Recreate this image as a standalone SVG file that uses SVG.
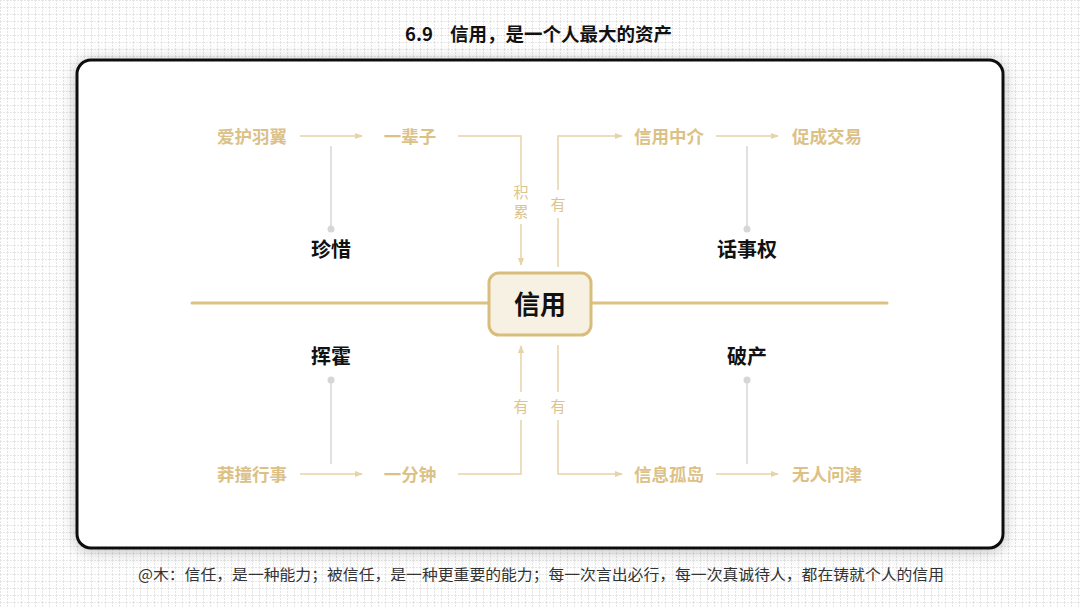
<svg xmlns="http://www.w3.org/2000/svg" width="1080" height="608" viewBox="0 0 1080 608">
<defs>
<pattern id="grid" width="7" height="7" patternUnits="userSpaceOnUse">
<path d="M0 0.5 H7 M0.5 0 V7" stroke="#e6e6e6" stroke-width="1" stroke-dasharray="2 1" fill="none"/>
</pattern>
<filter id="shadow" x="-10%" y="-10%" width="120%" height="120%">
<feDropShadow dx="0" dy="2" stdDeviation="8" flood-color="#000" flood-opacity="0.25"/>
</filter>
<marker id="arr" viewBox="0 0 10 10" refX="9" refY="5" markerWidth="8" markerHeight="8" markerUnits="userSpaceOnUse" orient="auto">
<path d="M0 1 L10 5 L0 9 Z" fill="#e6d3a6"/>
</marker>
</defs>
<style>
.gold{font-family:"Noto Sans CJK SC","Noto Sans",sans-serif;font-weight:bold;font-size:17.5px;fill:#dcc187;text-anchor:middle}
.blk{font-family:"Noto Sans CJK SC","Noto Sans",sans-serif;font-weight:bold;font-size:20px;fill:#111;text-anchor:middle}
.sm{font-family:"Noto Sans CJK SC","Noto Sans",sans-serif;font-size:15px;fill:#dcc48e;text-anchor:middle}
.con{fill:none;stroke:#e6d3a6;stroke-width:1.5}
.gray{fill:none;stroke:#d6d6d6;stroke-width:1.5}
.dot{fill:#d6d6d6}
</style>
<rect width="1080" height="608" fill="#fff"/>
<rect width="1080" height="608" fill="url(#grid)"/>
<text x="405" y="41" font-family="Noto Sans CJK SC,Noto Sans,sans-serif" font-weight="bold" font-size="18.5" fill="#111">6.9</text>
<text x="450" y="41" font-family="Noto Sans CJK SC,Noto Sans,sans-serif" font-weight="bold" font-size="18.5" fill="#111">信用，是一个人最大的资产</text>
<rect x="77" y="60" width="926" height="488" rx="14" fill="#fff" stroke="#111" stroke-width="3" filter="url(#shadow)"/>
<line x1="192" y1="303" x2="887" y2="303" stroke="#dcc17f" stroke-width="3" stroke-linecap="round"/>
<g id="connectors">
<line class="con" x1="300" y1="136" x2="362" y2="136" marker-end="url(#arr)"/>
<path class="con" d="M458 136 H521 V186"/>
<path class="con" d="M521 224 V265" marker-end="url(#arr)"/>
<path class="con" d="M558 190 V136 H622" marker-end="url(#arr)"/>
<path class="con" d="M558 218 V267"/>
<line class="con" x1="716" y1="136" x2="778" y2="136" marker-end="url(#arr)"/>
<line class="con" x1="300" y1="474" x2="362" y2="474" marker-end="url(#arr)"/>
<path class="con" d="M458 474 H521 V420"/>
<path class="con" d="M521 392 V346" marker-end="url(#arr)"/>
<path class="con" d="M558 345 V392"/>
<path class="con" d="M558 420 V474 H622" marker-end="url(#arr)"/>
<line class="con" x1="716" y1="474" x2="778" y2="474" marker-end="url(#arr)"/>
<line class="gray" x1="331" y1="146" x2="331" y2="229"/>
<circle class="dot" cx="331" cy="229" r="3.5"/>
<line class="gray" x1="747" y1="146" x2="747" y2="229"/>
<circle class="dot" cx="747" cy="229" r="3.5"/>
<line class="gray" x1="331" y1="380" x2="331" y2="464"/>
<circle class="dot" cx="331" cy="380" r="3.5"/>
<line class="gray" x1="747" y1="380" x2="747" y2="464"/>
<circle class="dot" cx="747" cy="380" r="3.5"/>
<text class="sm" x="521" y="198">积</text>
<text class="sm" x="521" y="217">累</text>
<text class="sm" x="558" y="210">有</text>
<text class="sm" x="521" y="412">有</text>
<text class="sm" x="558" y="412">有</text>
</g>
<g id="center">
<rect x="489" y="273" width="102" height="62" rx="10" fill="#f7f1e4" stroke="#d9bd7a" stroke-width="3"/>
<text x="540" y="314" font-family="Noto Sans CJK SC,Noto Sans,sans-serif" font-weight="bold" font-size="26" fill="#111" text-anchor="middle">信用</text>
</g>
<g id="n-aihu"><text class="gold" x="252" y="143">爱护羽翼</text></g>
<g id="n-yibeizi"><text class="gold" x="410" y="143">一辈子</text></g>
<g id="n-xinyongzhongjie"><text class="gold" x="669" y="143">信用中介</text></g>
<g id="n-cucheng"><text class="gold" x="827" y="143">促成交易</text></g>
<g id="n-zhenxi"><text class="blk" x="331" y="257">珍惜</text></g>
<g id="n-huashiquan"><text class="blk" x="747" y="257">话事权</text></g>
<g id="n-huihuo"><text class="blk" x="331" y="364">挥霍</text></g>
<g id="n-pochan"><text class="blk" x="747" y="364">破产</text></g>
<g id="n-mangzhuang"><text class="gold" x="252" y="481">莽撞行事</text></g>
<g id="n-yifenzhong"><text class="gold" x="410" y="481">一分钟</text></g>
<g id="n-xinxi"><text class="gold" x="669" y="481">信息孤岛</text></g>
<g id="n-wuren"><text class="gold" x="827" y="481">无人问津</text></g>
<text x="138" y="580" font-family="Noto Sans CJK SC,Noto Sans,sans-serif" font-size="15" fill="#333" textLength="806" lengthAdjust="spacingAndGlyphs">@木：信任，是一种能力；被信任，是一种更重要的能力；每一次言出必行，每一次真诚待人，都在铸就个人的信用</text>
</svg>
